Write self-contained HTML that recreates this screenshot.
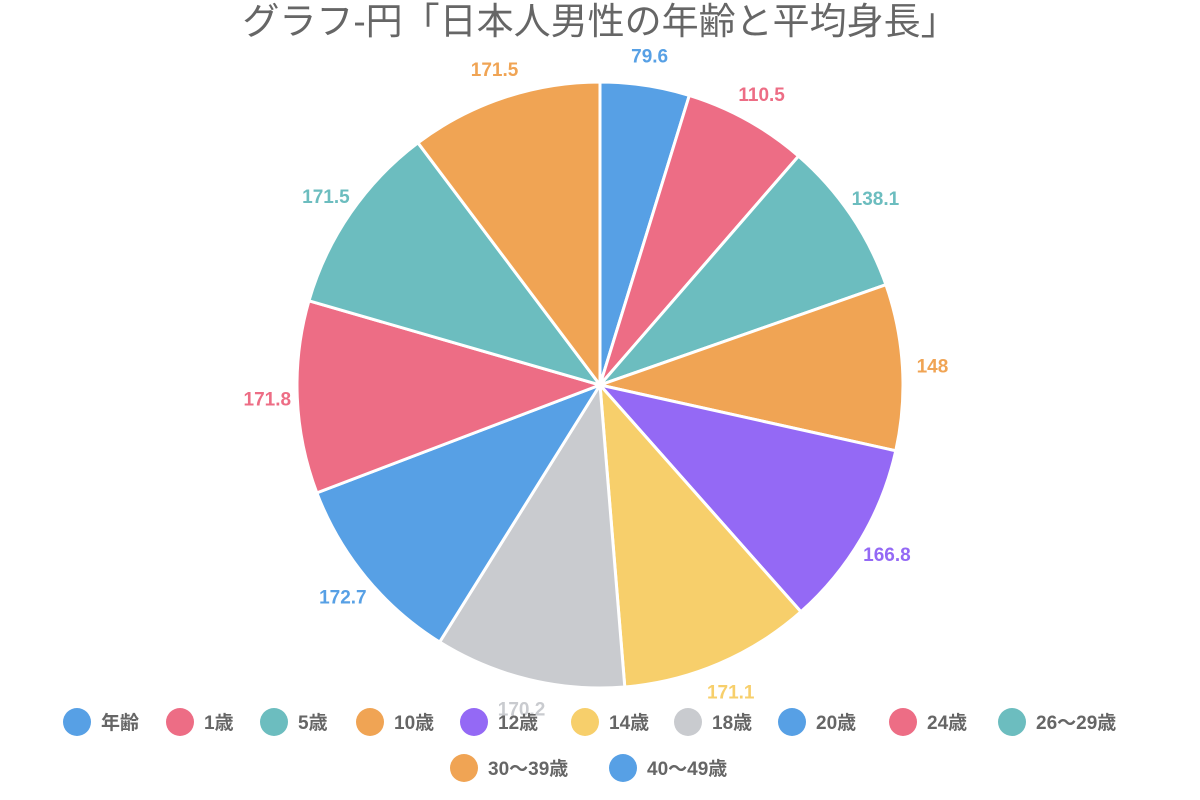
<!DOCTYPE html>
<html><head><meta charset="utf-8"><style>
body{margin:0;background:#fff;width:1200px;height:800px;overflow:hidden}
svg{display:block}
</style></head><body>
<svg id="chart" width="1200" height="800" xmlns="http://www.w3.org/2000/svg" font-family="'Liberation Sans','Noto Sans CJK JP',sans-serif">
<text x="600" y="34" text-anchor="middle" font-size="37" fill="#666">グラフ-円「日本人男性の年齢と平均身長」</text>
<g id="slices"></g><g id="labels"></g><g id="legend"></g>
</svg>
<script>
const categories=["年齢","1歳","5歳","10歳","12歳","14歳","18歳","20歳","24歳","26〜29歳","30〜39歳","40〜49歳"];
const values=[79.6,110.5,138.1,148,166.8,171.1,170.2,172.7,171.8,171.5,171.5,0];
const colors=["#57a0e5","#ed6d85","#6cbdbf","#f0a454","#9469f5","#f7cf6b","#c9cbcf","#57a0e5","#ed6d85","#6cbdbf","#f0a454","#57a0e5"];
const NS="http://www.w3.org/2000/svg";
const cx=600,cy=385,R=303,LR=333;
const total=values.reduce((a,b)=>a+b,0);
const sg=document.getElementById('slices'),lg=document.getElementById('labels'),leg=document.getElementById('legend');
let a=-Math.PI/2;
values.forEach((v,i)=>{
  if(v<=0)return;
  const da=v/total*2*Math.PI,a2=a+da;
  const p=document.createElementNS(NS,'path');
  const x1=cx+R*Math.cos(a),y1=cy+R*Math.sin(a),x2=cx+R*Math.cos(a2),y2=cy+R*Math.sin(a2);
  p.setAttribute('d',`M${cx},${cy}L${x1},${y1}A${R},${R} 0 ${da>Math.PI?1:0} 1 ${x2},${y2}Z`);
  p.setAttribute('fill',colors[i]);p.setAttribute('stroke','#fff');p.setAttribute('stroke-width','3');
  
  
  sg.appendChild(p);
  const m=a+da/2;
  const t=document.createElementNS(NS,'text');
  t.setAttribute('x',cx+LR*Math.cos(m));t.setAttribute('y',cy+LR*Math.sin(m)+7);
  t.setAttribute('text-anchor','middle');t.setAttribute('font-size','19');t.setAttribute('font-weight','bold');t.setAttribute('fill',colors[i]);
  t.textContent=String(v);
  
  
  lg.appendChild(t);
  a=a2;
});
const lx=[77,180,274,370,474,585,688,792,903,1012,464,623];
const ly=[722,722,722,722,722,722,722,722,722,722,768,768];
categories.forEach((c,i)=>{
  const g=document.createElementNS(NS,'g');
  
  
  const ci=document.createElementNS(NS,'circle');
  ci.setAttribute('cx',lx[i]);ci.setAttribute('cy',ly[i]);ci.setAttribute('r','14');ci.setAttribute('fill',colors[i]);
  const t=document.createElementNS(NS,'text');
  t.setAttribute('x',lx[i]+24);t.setAttribute('y',ly[i]+7);t.setAttribute('font-size','19');t.setAttribute('font-weight','bold');t.setAttribute('fill','#666');
  t.textContent=c;
  g.appendChild(ci);g.appendChild(t);leg.appendChild(g);
});
</script>
</body></html>
